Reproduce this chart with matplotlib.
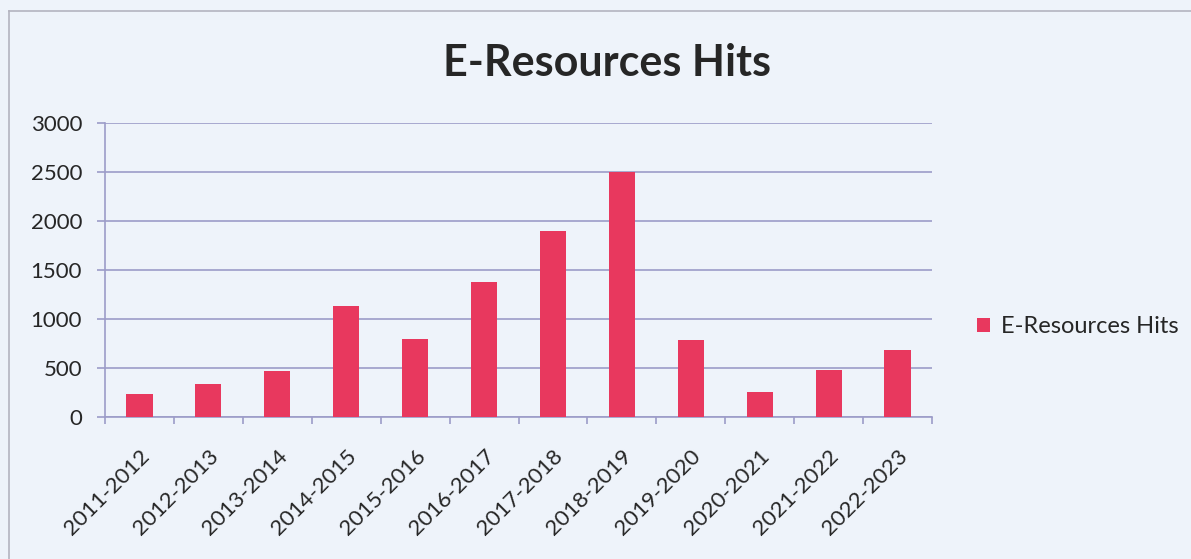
import matplotlib
matplotlib.use("Agg")
import matplotlib.pyplot as plt
import numpy as np
from matplotlib.lines import Line2D

categories = ["2011-2012", "2012-2013", "2013-2014", "2014-2015", "2015-2016", "2016-2017",
              "2017-2018", "2018-2019", "2019-2020", "2020-2021", "2021-2022", "2022-2023"]
hits = [235, 340, 466, 1130, 800, 1375, 1897, 2505, 782, 255, 483, 687]
yticks = [0, 500, 1000, 1500, 2000, 2500, 3000]
series_name = "E-Resources Hits"

plt.rcParams['font.family'] = ['Lato', 'DejaVu Sans']

W, H = 1191, 559
fig = plt.figure(figsize=(W / 100, H / 100), dpi=100)
bg = "#eef3fa"
fig.patch.set_facecolor(bg)

# outer chart border (left and top edges visible)
border = "#b4b4c0"
fig.lines.append(Line2D([8.5 / W, 8.5 / W], [0, 1 - 11 / H], transform=fig.transFigure,
                        color=border, linewidth=1.2))
fig.lines.append(Line2D([8.5 / W, 1], [1 - 11 / H, 1 - 11 / H], transform=fig.transFigure,
                        color=border, linewidth=1.2))

left, right, top, bottom = 105, 932, 123, 417
ax = fig.add_axes([left / W, 1 - bottom / H, (right - left) / W, (bottom - top) / H])
ax.set_facecolor(bg)

bar_color = "#e8385e"
grid_color = "#9c9cc8"
text_color = "#262626"
x = np.arange(len(categories))
ax.bar(x, hits, width=0.38, color=bar_color, zorder=3, label=series_name)

ax.set_xlim(-0.5, len(categories) - 0.5)
ax.set_ylim(0, 3000)
ax.set_yticks(yticks)
ax.set_yticklabels([str(v) for v in yticks], fontsize=16, color=text_color)
ax.yaxis.grid(True, color=grid_color, linewidth=1.2, zorder=0)
ax.tick_params(axis='y', length=5.5, color=grid_color, width=1.2, pad=11)

ax.set_xticks(np.arange(-0.5, len(categories), 1.0))
ax.set_xticklabels([])
ax.set_xticks(x, minor=True)
ax.set_xticklabels(categories, minor=True, rotation=45, ha='right', rotation_mode='anchor',
                   fontsize=16, color=text_color)
ax.tick_params(axis='x', which='major', length=5, color=grid_color, width=1.2)
ax.tick_params(axis='x', which='minor', length=0, pad=21)

for s in ['top', 'right']:
    ax.spines[s].set_visible(False)
for s in ['left', 'bottom']:
    ax.spines[s].set_color(grid_color)
    ax.spines[s].set_linewidth(1.2)

fig.text(607 / W, 1 - 63 / H, "E-Resources Hits", ha='center', va='center',
         fontsize=31, fontweight='bold', color=text_color)

leg = ax.legend(loc='center left', bbox_to_anchor=(956 / W, 1 - 327 / H),
                bbox_transform=fig.transFigure, frameon=False, fontsize=17,
                handlelength=0.55, handleheight=0.55, handletextpad=0.45)
for t in leg.get_texts():
    t.set_color(text_color)

fig.savefig("out.png", dpi=100, facecolor=fig.get_facecolor())
